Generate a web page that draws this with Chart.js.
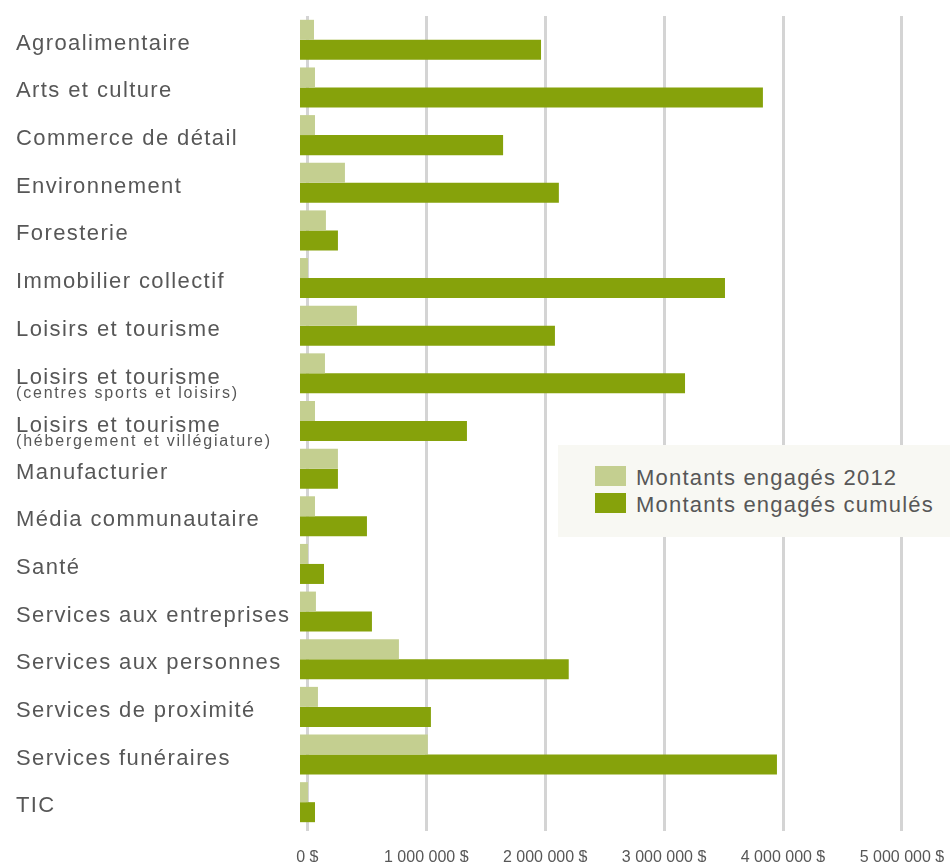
<!DOCTYPE html>
<html lang="fr">
<head>
<meta charset="utf-8">
<script src="https://cdn.jsdelivr.net/npm/chart.js@4"></script>
<style>
  body { margin: 0; background: #fff; }
  #wrap { position: relative; width: 950px; height: 862px; }
  #legend {
    position: absolute; left: 558px; top: 445px; width: 392px; height: 92px;
    background: #f8f8f3; font-family: "Liberation Sans", Arial, sans-serif;
  }
  .item { position: absolute; left: 37px; height: 27px; line-height: 27px;
    font-size: 22px; letter-spacing: 1.2px; color: #575757; white-space: nowrap; }
  .item span { display: inline-block; width: 31px; height: 20px; margin-right: 10px;
    vertical-align: top; margin-top: 2px; }
</style>
</head>
<body>
<div id="wrap">
  <canvas id="chart"></canvas>
  <div id="legend"></div>
</div>
<script>
/* ---------- data ---------- */
const categories = [
  'Agroalimentaire',
  'Arts et culture',
  'Commerce de détail',
  'Environnement',
  'Foresterie',
  'Immobilier collectif',
  'Loisirs et tourisme',
  ['Loisirs et tourisme', '(centres sports et loisirs)'],
  ['Loisirs et tourisme', '(hébergement et villégiature)'],
  'Manufacturier',
  'Média communautaire',
  'Santé',
  'Services aux entreprises',
  'Services aux personnes',
  'Services de proximité',
  'Services funéraires',
  'TIC'
]
const montants2012 = [56000, 64000, 64000, 316000, 156000, 5000, 417000, 148000, 64000,
  257000, 64000, 5000, 72000, 770000, 89000, 1013000, 5000]
const montantsCumules = [1965000, 3831000, 1646000, 2115000, 257000, 3512000, 2082000, 3176000, 1342000,
  257000, 501000, 140000, 543000, 2198000, 1039000, 3949000, 64000]
const xTicks = [0, 1000000, 2000000, 3000000, 4000000, 5000000]
const seriesNames = ['Montants engagés 2012', 'Montants engagés cumulés']

const FONT = '"Liberation Sans", Arial, sans-serif'
const TEXT = '#575757'

function money(v) {
  return String(v).replace(/\B(?=(\d{3})+(?!\d))/g, ' ') + ' $'
}

/* ---------- category labels on the left ---------- */
const catLabels = {
  id: 'catLabels',
  afterDraw(chart) {
    const ctx = chart.ctx
    const y = chart.scales.y
    ctx.save()
    ctx.fillStyle = TEXT
    ctx.textAlign = 'left'
    ctx.textBaseline = 'alphabetic'
    categories.forEach((lab, i) => {
      const py = y.getPixelForTick(i)
      ctx.font = '22px ' + FONT
      ctx.letterSpacing = '1.4px'
      if (Array.isArray(lab)) {
        ctx.fillText(lab[0], 16, py + 11)
        ctx.font = '16px ' + FONT
        ctx.letterSpacing = '1.8px'
        ctx.fillText(lab[1], 16, py + 25)
      } else {
        ctx.fillText(lab, 16, py + 10)
      }
    })
    ctx.restore()
  }
}

const lowest = -62000

let chart = new Chart(document.getElementById('chart'), {
  type: 'bar',
  data: {
    labels: categories,
    datasets: [{
      label: seriesNames[0],
      data: montants2012,
      backgroundColor: '#c4cf90',
      base: lowest
    }, {
      label: seriesNames[1],
      data: montantsCumules,
      backgroundColor: '#86a20b',
      base: lowest
    }]
  },
  options: {
    indexAxis: 'y',
    responsive: true,
    maintainAspectRatio: false,
    animation: false,
    categoryPercentage: 0.84,
    barPercentage: 1,
    layout: { padding: { top: 16, left: 300, right: 35, bottom: 0 } },
    plugins: {
      legend: { display: false },
      tooltip: { callbacks: { label: c => c.dataset.label + ' : ' + money(c.raw) } }
    },
    scales: {
      y: { display: false },
      x: {
        min: lowest,
        max: 5110000,
        afterBuildTicks: s => { s.ticks = xTicks.map(v => ({ value: v })) },
        border: { display: false },
        grid: {
          color: '#d4d4d4',
          lineWidth: 3,
          tickColor: '#d4d4d4',
          tickWidth: 3,
          tickLength: 27,
          tickBorderDash: [5, 100]
        },
        ticks: {
          color: TEXT,
          padding: 0.5,
          maxRotation: 0,
          autoSkip: false,
          font: { family: FONT, size: 16, lineHeight: 0.5 },
          callback: v => money(v)
        }
      }
    }
  },
  plugins: [catLabels]
})

/* ---------- legend ---------- */
let legendHtml = ''
chart.data.datasets.forEach((ds, i) => {
  legendHtml += `<div class="item" style="top:${19 + i * 27}px"><span style="background:${ds.backgroundColor}"></span>${ds.label}</div>`
})
document.getElementById('legend').innerHTML = legendHtml
</script>
</body>
</html>
